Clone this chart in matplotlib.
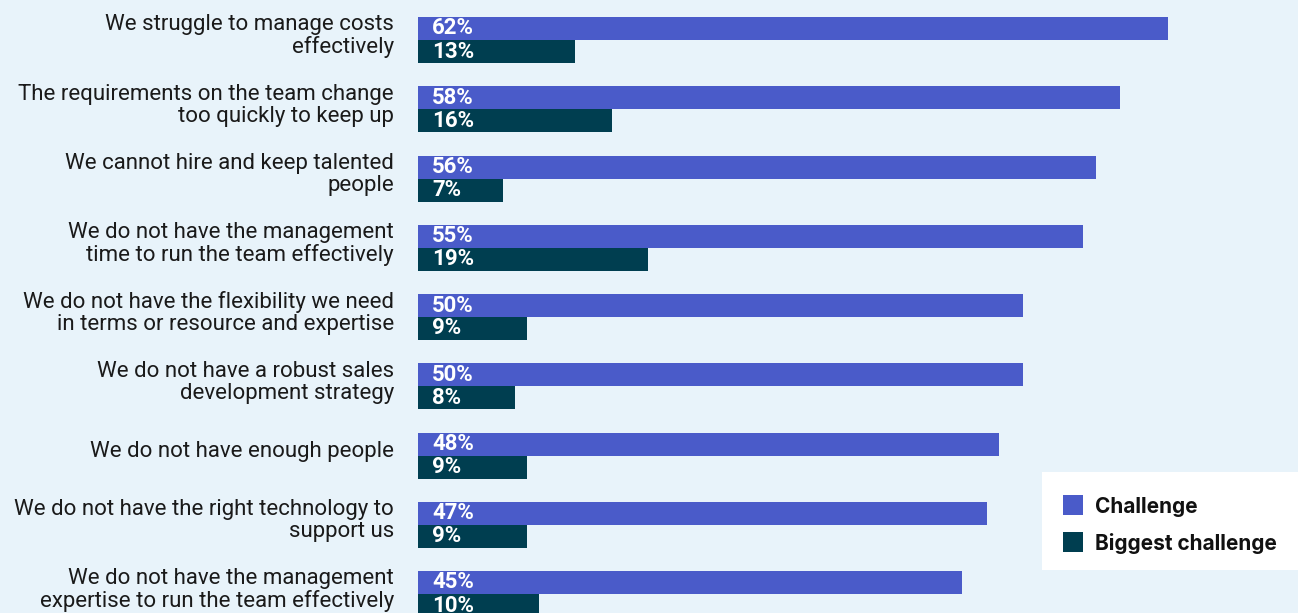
import matplotlib
matplotlib.use("Agg")
import matplotlib.pyplot as plt
from matplotlib import transforms
from matplotlib.patches import Rectangle

categories = [
    "We struggle to manage costs\neffectively",
    "The requirements on the team change\ntoo quickly to keep up",
    "We cannot hire and keep talented\npeople",
    "We do not have the management\ntime to run the team effectively",
    "We do not have the flexibility we need\nin terms or resource and expertise",
    "We do not have a robust sales\ndevelopment strategy",
    "We do not have enough people",
    "We do not have the right technology to\nsupport us",
    "We do not have the management\nexpertise to run the team effectively",
]
challenge = [62, 58, 56, 55, 50, 50, 48, 47, 45]
biggest = [13, 16, 7, 19, 9, 8, 9, 9, 10]
series_names = ["Challenge", "Biggest challenge"]

BG = "#e8f3fa"
C_CHAL = "#4a5bc9"
C_BIG = "#003e50"
TEXT = "#1a1a1a"

W, H, DPI = 1298, 613, 100
fig = plt.figure(figsize=(W / DPI, H / DPI), dpi=DPI, facecolor=BG)

ax_left = 418
ax = fig.add_axes([ax_left / W, 0, (W - ax_left) / W, 1])
ax.set_facecolor(BG)
px_per_unit = 12.1
ax.set_xlim(0, (W - ax_left) / px_per_unit)
pitch = 69.25
ax.set_ylim((H - 40) / pitch, -40 / pitch)
ax.axis("off")

bh = 23 / pitch
rows = list(range(len(categories)))
ax.barh([r - bh / 2 for r in rows], challenge, height=bh, color=C_CHAL)
ax.barh([r + bh / 2 for r in rows], biggest, height=bh, color=C_BIG)

lab_tr = transforms.blended_transform_factory(ax.transAxes, ax.transData)
lab_tr = lab_tr + transforms.ScaledTranslation(0, 4 / DPI, fig.dpi_scale_trans)
for r, cat, c, b in zip(rows, categories, challenge, biggest):
    ax.text(-24 / (W - ax_left), r, cat, transform=lab_tr, ha="right", va="center",
            fontsize=16, family="Roboto", color=TEXT, linespacing=1.05)
    ax.annotate(f"{c}%", xy=(0, r - bh / 2), xytext=(10, 0), textcoords="offset points",
                ha="left", va="center", fontsize=16, fontweight="bold",
                family="Roboto", color="white")
    ax.annotate(f"{b}%", xy=(0, r + bh / 2), xytext=(10, 0), textcoords="offset points",
                ha="left", va="center", fontsize=16, fontweight="bold",
                family="Roboto", color="white")

# Legend panel
fig.patches.append(Rectangle((1042 / W, 1 - 570 / H), (W - 1042) / W, 98 / H,
                             transform=fig.transFigure, facecolor="white",
                             edgecolor="none", zorder=5))
for name, color, yc in zip(series_names, [C_CHAL, C_BIG], [505, 542]):
    fig.patches.append(Rectangle((1063 / W, 1 - (yc + 10) / H), 20 / W, 20 / H,
                                 transform=fig.transFigure, facecolor=color,
                                 edgecolor="none", zorder=6))
    fig.text(1095 / W, 1 - (yc + 2) / H, name, ha="left", va="center", fontsize=15,
             fontweight="bold", family="Inter", color="#111111", zorder=7)

fig.savefig("out.png", dpi=DPI, facecolor=BG)
